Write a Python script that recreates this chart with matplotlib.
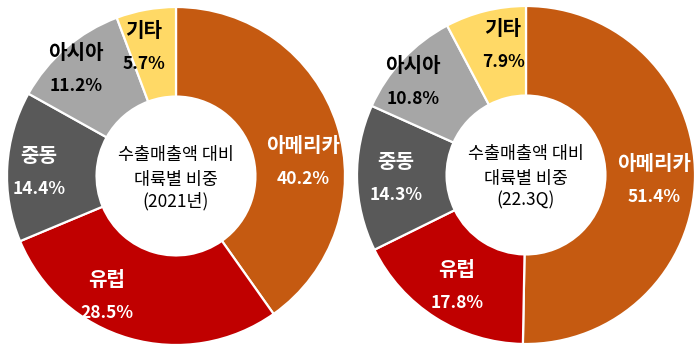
import matplotlib
matplotlib.use("Agg")
import matplotlib.pyplot as plt

plt.rcParams['font.family'] = ['Noto Sans CJK KR', 'DejaVu Sans']

# data
regions = ["아메리카", "유럽", "중동", "아시아", "기타"]
share_2021 = [40.2, 28.5, 14.4, 11.2, 5.7]
share_223q = [51.4, 17.8, 14.3, 10.8, 7.9]
titles = ["(2021년)", "(22.3Q)"]

colors = ["#C55A11", "#C00000", "#595959", "#A6A6A6", "#FFD966"]
txt_colors = ["white", "white", "white", "black", "black"]

# label anchor points, in units of the outer radius (layout only)
label_pos = [
    [(0.751, 0.083), (-0.408, -0.710), (-0.811, 0.024), (-0.592, 0.633), (-0.189, 0.763)],
    [(0.757, -0.030), (-0.408, -0.657), (-0.769, -0.018), (-0.669, 0.550), (-0.136, 0.769)],
]

W, H = 699, 354
R = 169  # outer radius px
centers = [(176, 176), (526, 175)]

fig = plt.figure(figsize=(W / 100, H / 100), dpi=100)

for k, (vals, title) in enumerate(zip([share_2021, share_223q], titles)):
    cx, cy = centers[k]
    ax = fig.add_axes([(cx - R) / W, (H - cy - R) / H, 2 * R / W, 2 * R / H])
    ax.pie(vals, colors=colors, startangle=90, counterclock=False, radius=1,
           wedgeprops=dict(width=0.53, edgecolor="white", linewidth=1.6))
    ax.set_xlim(-1, 1)
    ax.set_ylim(-1, 1)
    ax.set_aspect("equal")
    ax.axis("off")

    for (x, y), name, v, tc in zip(label_pos[k], regions, vals, txt_colors):
        ax.text(x, y + 0.098, name, ha="center", va="center", fontsize=14.5,
                fontweight="bold", color=tc)
        ax.text(x, y - 0.098, f"{v:.1f}%", ha="center", va="center", fontsize=12.5,
                fontweight="bold", color=tc)

    ax.text(0, 0.125, "수출매출액 대비", ha="center", va="center", fontsize=12.5, color="black")
    ax.text(0, -0.025, "대륙별 비중", ha="center", va="center", fontsize=12.5, color="black")
    ax.text(0, -0.15, title, ha="center", va="center", fontsize=12.5, color="black")

fig.savefig("out.png", dpi=100)
